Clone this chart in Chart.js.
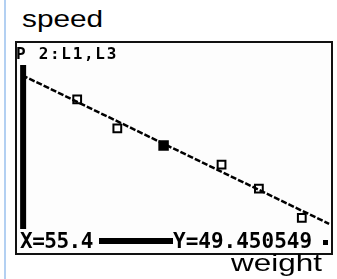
<!DOCTYPE html>
<html>
<head>
<meta charset="utf-8">
<script src="https://cdn.jsdelivr.net/npm/chart.js@4.4.1/dist/chart.umd.min.js"></script>
<style>
  html, body { margin: 0; padding: 0; background: #fff; }
  body { width: 337px; height: 279px; position: relative; overflow: hidden; }
  #edge { position: absolute; left: 4px; top: 0; width: 2px; height: 279px; background: #b3d0f2; }
  .label { position: absolute; font-family: "Liberation Sans", Arial, sans-serif; font-size: 24px; line-height: 24px; color: #000; transform-origin: 0 0; white-space: nowrap; }
  #speed { left: 22px; top: 7px; transform: scaleX(1.24); }
  #weight { left: 231px; top: 251px; transform: scaleX(1.31); }
  #screen { position: absolute; left: 15px; top: 41px; width: 314px; height: 210px; border: 2px solid #111; background: #fdfdfd; }
  #wrap { position: absolute; left: 17px; top: 43px; width: 314px; height: 210px; }
  .ti { position: absolute; font-family: "DejaVu Sans Mono", monospace; font-weight: bold; color: #000; white-space: nowrap; }
  #plotName { left: 16px; top: 46px; font-size: 16px; line-height: 16px; letter-spacing: 1.7px; }
  #xText { left: 20px; top: 231px; font-size: 21px; line-height: 21px; letter-spacing: -0.5px; }
  #yText { left: 173px; top: 231px; font-size: 21px; line-height: 21px; letter-spacing: 0px; }
  #bar { position: absolute; left: 99px; top: 238px; width: 74px; height: 6px; background: #000; }
  #dot { position: absolute; left: 323px; top: 240px; width: 5px; height: 5px; background: #000; }
</style>
</head>
<body>
<div id="edge"></div>
<div class="label" id="speed">speed</div>
<div id="screen"></div>
<div id="wrap"><canvas id="chart"></canvas></div>
<div class="ti" id="plotName">P 2:L1,L3</div>
<div class="ti" id="xText">X=55.4</div>
<div id="bar"></div>
<div class="ti" id="yText">Y=49.450549</div>
<div id="dot"></div>
<div class="label" id="weight">weight</div>
<script>
// data (weight vs speed)
const weights = [39.9, 47.1, 55.4, 65.8, 72.5, 80.2];
const speeds = [58.65, 52.85, 49.45, 45.65, 40.85, 35.05];
// regression line end points
const fitX = [30, 85.1];
const fitY = [63.45, 33.85];
// thick axis bar
const axisX = [30.2, 30.2];
const axisY = [65.45, 32.85];
// window
const xMin = 29.1, xMax = 85.44;
const yMin = 28.05, yMax = 69.85;
const traced = 55.4;

const ctx = document.getElementById('chart').getContext('2d');
new Chart(ctx, {
    type: 'scatter',
    data: {
        datasets: [
            {
                data: fitX.map((x, i) => ({ x: x, y: fitY[i] })),
                showLine: true,
                borderColor: '#000',
                borderWidth: 2.5,
                borderDash: [6, 2],
                pointRadius: 0
            },
            {
                data: axisX.map((x, i) => ({ x: x, y: axisY[i] })),
                showLine: true,
                borderColor: '#000',
                borderWidth: 6,
                borderCapStyle: 'butt',
                pointRadius: 0
            },
            {
                data: weights.map((x, i) => ({ x: x, y: speeds[i] })),
                pointStyle: 'rect',
                pointRadius: weights.map(w => w === traced ? 6 : 5.5),
                borderWidth: 2,
                borderColor: '#000',
                backgroundColor: '#fff',
                pointBackgroundColor: weights.map(w => w === traced ? '#000' : '#fff')
            }
        ]
    },
    options: {
        responsive: true,
        maintainAspectRatio: false,
        animation: false,
        layout: { padding: 0, autoPadding: false },
        plugins: { legend: { display: false }, tooltip: { enabled: false } },
        scales: {
            x: { type: 'linear', min: xMin, max: xMax, display: false },
            y: { type: 'linear', min: yMin, max: yMax, display: false }
        }
    }
});
</script>
</body>
</html>
